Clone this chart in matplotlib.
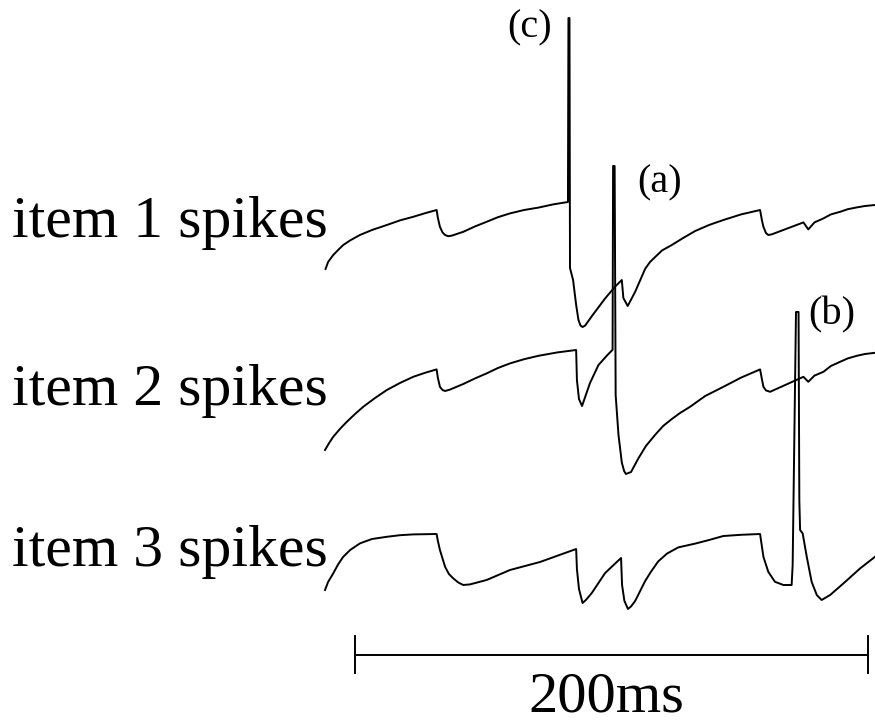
import matplotlib

matplotlib.use("Agg")
import matplotlib.pyplot as plt

# membrane potential traces (time in ms, voltage in mV)
ITEM1_T = [0.2, 1.2, 3.2, 5.1, 7.1, 9.8, 13.6, 18.3, 24.1, 29.2, 34.4, 39.0, 43.5, 44.0, 44.8,
           45.8, 46.8, 48.0, 49.5, 53.9, 58.5, 63.0, 67.4, 72.1, 77.6, 83.2, 88.9, 94.7,
           94.9, 95.3, 95.5, 96.7, 97.9, 98.8, 99.6, 100.4, 101.4, 104.0, 109.2, 113.1, 115.7,
           116.3, 118.0, 120.9, 124.8, 126.7, 128.7, 131.4, 135.2, 139.6, 144.3, 149.7,
           155.3, 162.2, 169.6, 170.3, 170.9, 171.9, 172.8, 174.1, 186.5, 188.4, 190.8,
           194.3, 197.2, 200.8, 203.8, 207.3, 210.5, 214.4]
ITEM1_V = [-85.5, -82.0, -78.5, -76.0, -73.5, -71.2, -68.5, -66.0, -63.5, -61.2, -59.4, -57.6,
           -56.0, -60.0, -64.4, -67.2, -68.5, -69.1, -68.8, -66.9, -64.2, -61.9, -59.6, -57.7,
           -56.0, -54.8, -53.2, -52.0, 40.0, 40.0, -85.0, -91.0, -103.5, -111.0, -113.8,
           -114.5, -113.8, -109.1, -100.2, -94.3, -91.0, -100.0, -104.0, -96.9, -85.4, -82.0,
           -79.5, -76.2, -73.5, -70.0, -66.5, -63.5, -61.0, -58.2, -56.0, -61.0, -64.4, -67.5,
           -68.5, -68.2, -62.2, -65.7, -62.2, -60.2, -58.2, -56.9, -55.6, -54.7, -54.0, -53.5]

ITEM2_T = [0.0, 1.6, 3.2, 5.8, 8.5, 11.7, 14.9, 19.5, 24.1, 29.2, 34.4, 39.0, 43.5, 44.0, 44.8,
           45.8, 46.8, 48.7, 53.9, 58.5, 63.0, 67.4, 72.1, 77.6, 83.2, 90.6, 97.9, 98.2, 99.0,
           100.2, 101.0, 103.3, 106.6, 110.1, 112.1, 112.3, 112.9, 113.3, 114.4, 115.7, 116.6,
           117.3, 119.3, 122.1, 125.1, 128.7, 131.8, 135.2, 138.4, 142.3, 148.2, 155.3, 162.2,
           169.6, 170.3, 170.9, 171.9, 173.5, 186.5, 188.4, 190.8, 194.3, 197.2, 200.8, 203.8,
           207.3, 210.5, 214.4]
ITEM2_V = [-102.0, -98.5, -95.4, -91.5, -87.9, -84.0, -80.4, -76.0, -72.0, -68.5, -65.4, -63.4,
           -61.7, -66.0, -70.4, -72.0, -72.5, -71.8, -69.0, -66.2, -63.7, -61.0, -58.7, -56.6,
           -54.9, -53.2, -52.0, -67.0, -76.5, -80.0, -77.0, -68.5, -59.5, -54.5, -51.9, 40.0,
           40.0, -74.5, -94.4, -108.3, -112.5, -114.0, -113.0, -106.3, -100.0, -94.4, -90.0,
           -86.5, -83.5, -80.4, -75.0, -70.4, -65.8, -61.7, -66.5, -70.4, -72.2, -72.9, -65.4,
           -67.9, -64.8, -62.9, -60.0, -57.9, -56.2, -54.9, -54.0, -53.4]

ITEM3_T = [0.0, 1.2, 3.2, 5.1, 7.1, 9.8, 13.6, 18.3, 24.1, 29.2, 34.4, 43.5, 44.0, 44.8, 46.8,
           48.3, 50.0, 51.9, 53.9, 56.5, 63.0, 72.1, 83.8, 97.9, 98.2, 99.0, 100.4, 101.7,
           104.0, 109.2, 112.9, 115.4, 115.8, 116.7, 118.1, 119.3, 120.9, 124.8, 127.1, 129.9,
           133.3, 137.7, 144.3, 149.7, 155.3, 162.2, 169.6, 170.9, 172.8, 175.4, 178.7, 181.9,
           182.3, 183.6, 184.6, 184.9, 185.2, 186.2, 187.8, 189.7, 191.7, 193.6, 196.9, 202.1,
           208.6, 214.4]
ITEM3_V = [-99.0, -95.0, -90.7, -86.2, -82.4, -79.0, -75.7, -73.5, -72.4, -71.6, -71.2, -71.0,
           -74.5, -79.0, -87.4, -91.0, -93.2, -95.2, -96.5, -96.2, -94.0, -89.0, -85.0, -78.5,
           -88.5, -98.5, -105.5, -104.0, -100.5, -90.5, -86.0, -83.0, -96.5, -104.4, -108.5,
           -107.2, -104.5, -94.5, -89.8, -84.7, -80.8, -77.7, -75.8, -74.0, -72.0, -71.4, -71.0,
           -82.4, -89.9, -94.9, -96.5, -96.5, -86.5, 40.0, 40.0, -54.0, -69.0, -70.7, -82.4,
           -94.9, -101.5, -104.0, -101.5, -95.7, -88.2, -82.4]

TRACE_LABELS = ["item 1 spikes", "item 2 spikes", "item 3 spikes"]
TRACE_OFFSETS = [0, -74, -147]

SPIKE_LABELS = ["(c)", "(a)", "(b)"]
SCALE_MS = 200

SERIF = ["Liberation Serif", "DejaVu Serif"]

fig = plt.figure(figsize=(8.75, 7.26), dpi=100)
ax = fig.add_axes([0, 0, 1, 1])
ax.set_xlim(-126.7, 214.4)
ax.set_ylim(-314, 49)
ax.axis("off")

traces = [(ITEM1_T, ITEM1_V), (ITEM2_T, ITEM2_V), (ITEM3_T, ITEM3_V)]
label_y = [-69.5, -153.5, -234.0]
for (t, v), offset, label, ly in zip(traces, TRACE_OFFSETS, TRACE_LABELS, label_y):
    ax.plot(t, [val + offset for val in v], color="black", linewidth=1.4,
            solid_joinstyle="round")
    ax.text(-122.0, ly, label, family=SERIF, fontsize=43, va="baseline", ha="left")

# letters beside the three spikes
spike_pos = [(79.9, 35.0), (130.6, -42.5), (197.7, -108.5)]
for (x, y), text in zip(spike_pos, SPIKE_LABELS):
    ax.text(x, y, text, family=SERIF, fontsize=29, ha="center", va="center")

# time scale bar
bar_start = 11.7
bar_y = -278.5
ax.plot([bar_start, bar_start + SCALE_MS], [bar_y, bar_y], color="black", linewidth=1.4)
for x in (bar_start, bar_start + SCALE_MS):
    ax.plot([x, x], [bar_y - 9.25, bar_y + 9.25], color="black", linewidth=1.4)
ax.text(bar_start + SCALE_MS / 2 - 2, -307, f"{SCALE_MS}ms", family=SERIF, fontsize=42,
        ha="center", va="baseline")

fig.savefig("out.png", dpi=100)
